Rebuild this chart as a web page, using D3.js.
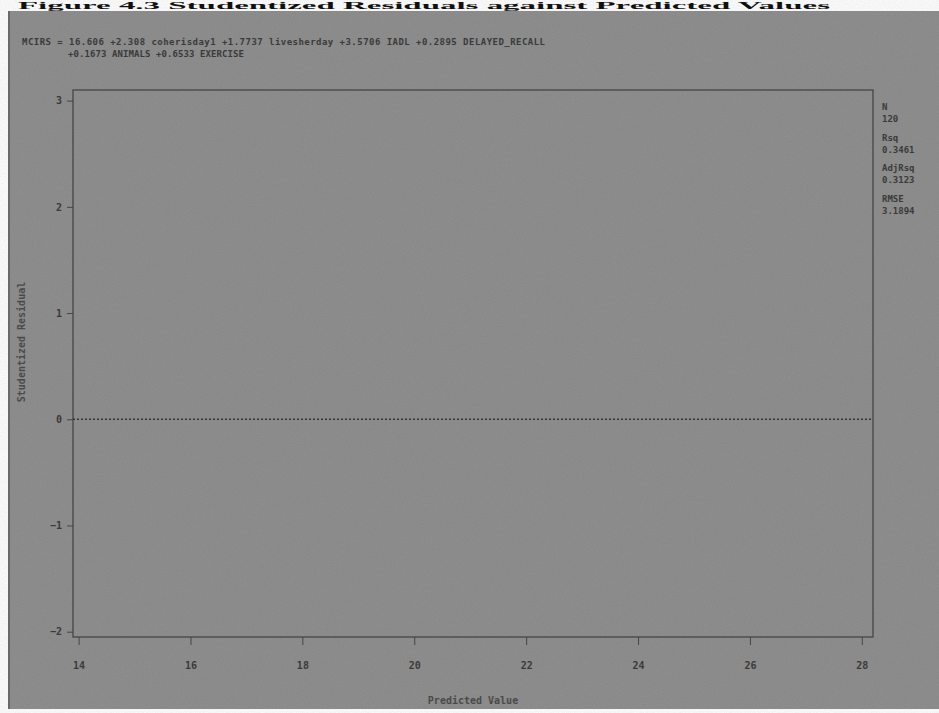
<!DOCTYPE html>
<html>
<head>
<meta charset="utf-8">
<script src="https://cdn.jsdelivr.net/npm/d3@7"></script>
<style>
  body { margin: 0; background: #fff; }
  svg { display: block; }
</style>
</head>
<body>
<div id="chart"></div>
<script>
// tick values
var xTicks = [14, 16, 18, 20, 22, 24, 26, 28];
var yTicks = [3, 2, 1, 0, -1, -2];
var refLine = [0];

// fit statistics on the right margin
var statNames = ["N", "Rsq", "AdjRsq", "RMSE"];
var statValues = ["120", "0.3461", "0.3123", "3.1894"];

// model equation, two lines
var eqLine1 = "MCIRS = 16.606 +2.308 coherisday1 +1.7737 livesherday +3.5706 IADL +0.2895 DELAYED_RECALL";
var eqLine2 = "+0.1673 ANIMALS +0.6533 EXERCISE";

var titleText = "Figure 4.3  Studentized Residuals against Predicted Values";

function chart() {
    var width = 939,
        height = 713;

    var svg = d3.select("#chart")
        .append("svg")
        .attr("width", width)
        .attr("height", height);

    // grainy scan look
    var defs = svg.append("defs");
    var f = defs.append("filter").attr("id", "grain");
    f.append("feTurbulence")
        .attr("type", "fractalNoise")
        .attr("baseFrequency", 0.9)
        .attr("numOctaves", 2)
        .attr("seed", 3);
    f.append("feColorMatrix")
        .attr("type", "matrix")
        .attr("values", "0 0 0 0 0  0 0 0 0 0  0 0 0 0 0  0 0 0 0.07 0");

    // figure caption squeezed into the white strip at the top
    svg.append("text")
        .attr("x", 18)
        .attr("y", 9)
        .attr("font-family", "'Liberation Serif', serif")
        .attr("font-weight", "bold")
        .attr("font-size", 11)
        .attr("fill", "#111")
        .attr("textLength", 812)
        .attr("lengthAdjust", "spacingAndGlyphs")
        .text(titleText);

    // grey page of the scanned plot
    svg.append("rect")
        .attr("x", 8)
        .attr("y", 11)
        .attr("width", width - 8)
        .attr("height", 698)
        .attr("fill", "#909090");
    svg.append("rect")
        .attr("x", 8)
        .attr("y", 11)
        .attr("width", width - 8)
        .attr("height", 698)
        .attr("filter", "url(#grain)");
    svg.append("line")
        .attr("x1", 9).attr("x2", 9)
        .attr("y1", 11).attr("y2", 709)
        .attr("stroke", "#5e5e5e")
        .attr("stroke-width", 1.5);

    var plot = { left: 73, right: 873, top: 90, bottom: 637 };

    var x = d3.scaleLinear()
        .domain([13.9, 28.2])
        .range([plot.left, plot.right]);

    var y = d3.scaleLinear()
        .domain([-2.05, 3.1])
        .range([plot.bottom, plot.top]);

    var ink = "#454545";
    var txt = "#3a3a3a";
    var mono = "'DejaVu Sans Mono', monospace";

    // frame
    svg.append("rect")
        .attr("x", plot.left)
        .attr("y", plot.top)
        .attr("width", plot.right - plot.left)
        .attr("height", plot.bottom - plot.top)
        .attr("fill", "none")
        .attr("stroke", ink)
        .attr("stroke-width", 1.3);

    // axes
    var xAxis = svg.append("g")
        .attr("transform", "translate(0," + plot.bottom + ")")
        .call(d3.axisBottom(x).tickValues(xTicks).tickSize(8).tickPadding(17).tickFormat(d3.format("d")));
    xAxis.select(".domain").remove();

    var yAxis = svg.append("g")
        .attr("transform", "translate(" + plot.left + ",0)")
        .call(d3.axisLeft(y).tickValues(yTicks).tickSize(6).tickPadding(5).tickFormat(d3.format("d")));
    yAxis.select(".domain").remove();

    svg.selectAll(".tick line").attr("stroke", ink);
    svg.selectAll(".tick text")
        .attr("fill", txt)
        .attr("font-family", mono)
        .attr("font-weight", "bold")
        .attr("font-size", 10);

    // zero reference line
    svg.selectAll(".ref")
        .data(refLine)
        .enter()
        .append("line")
        .attr("class", "ref")
        .attr("x1", plot.left)
        .attr("x2", plot.right)
        .attr("y1", function (d) { return y(d); })
        .attr("y2", function (d) { return y(d); })
        .attr("stroke", "#333")
        .attr("stroke-width", 1.3)
        .attr("stroke-dasharray", "2,2");

    // axis labels
    svg.append("text")
        .attr("x", (plot.left + plot.right) / 2)
        .attr("y", 704)
        .attr("text-anchor", "middle")
        .attr("font-family", mono)
        .attr("font-weight", "bold")
        .attr("font-size", 10)
        .attr("fill", "#4a4a4a")
        .text("Predicted Value");

    svg.append("text")
        .attr("transform", "translate(25,342) rotate(-90)")
        .attr("text-anchor", "middle")
        .attr("font-family", mono)
        .attr("font-weight", "bold")
        .attr("font-size", 10)
        .attr("fill", "#4a4a4a")
        .text("Studentized Residual");

    // equation
    svg.append("text")
        .attr("x", 22)
        .attr("y", 45)
        .attr("font-family", mono)
        .attr("font-weight", "bold")
        .attr("font-size", 9)
        .attr("fill", txt)
        .attr("textLength", 523)
        .text(eqLine1);
    svg.append("text")
        .attr("x", 68)
        .attr("y", 57)
        .attr("font-family", mono)
        .attr("font-weight", "bold")
        .attr("font-size", 9)
        .attr("fill", txt)
        .attr("textLength", 176)
        .text(eqLine2);

    // stats block
    var stats = svg.append("g")
        .attr("transform", "translate(882,110)");
    statNames.forEach(function (n, i) {
        stats.append("text")
            .attr("y", i * 30.5)
            .attr("font-family", mono)
            .attr("font-weight", "bold")
            .attr("font-size", 9)
            .attr("fill", txt)
            .text(n);
        stats.append("text")
            .attr("y", i * 30.5 + 12)
            .attr("font-family", mono)
            .attr("font-weight", "bold")
            .attr("font-size", 9)
            .attr("fill", txt)
            .text(statValues[i]);
    });
}

chart();
</script>
</body>
</html>
